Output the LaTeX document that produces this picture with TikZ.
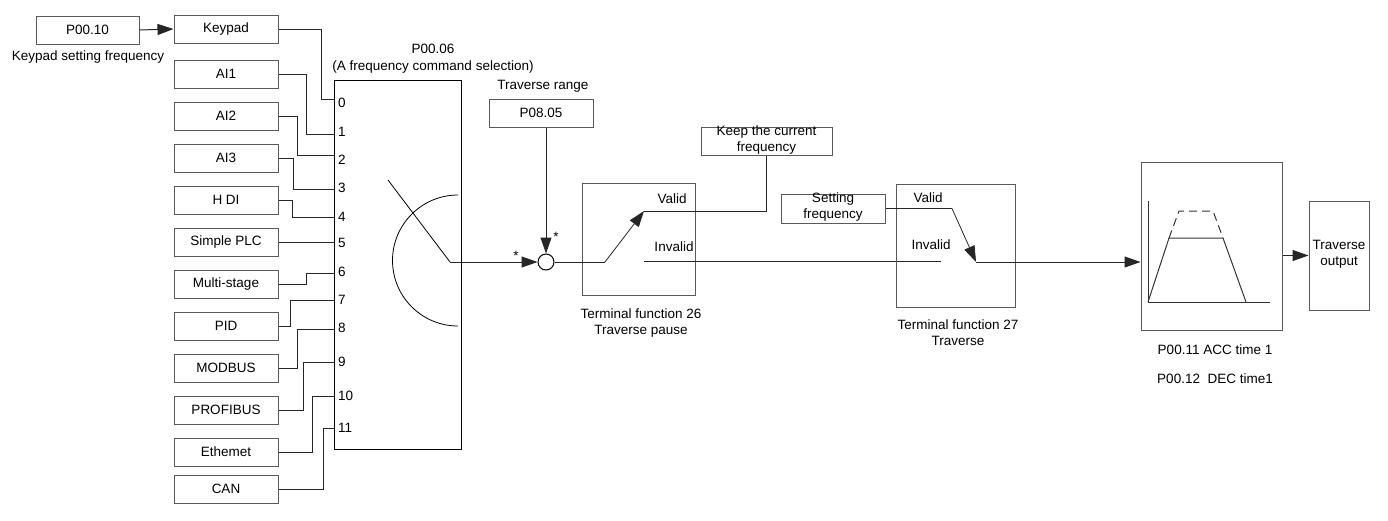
\documentclass[tikz,border=0pt]{standalone}
\usepackage{fontspec}
\setmainfont{Liberation Sans}
\usetikzlibrary{arrows.meta,calc}
\begin{document}
\begin{tikzpicture}[x=1pt,y=-1pt,
  every node/.style={font=\fontsize{13.5}{16}\selectfont, inner sep=0pt},
  box/.style={draw=black!65, line width=1pt, minimum width=104pt, minimum height=28pt},
  wire/.style={draw=black!85, line width=1pt},
  arr/.style={wire, -{Triangle[length=16pt,width=11pt]}},
  txt/.style={align=center}
]
\useasboundingbox (0,0) rectangle (1388,520);

% keypad setting
\node[box, minimum width=103pt] (p0010) at (87.5,30) {P00.10};
\node at (88,57) {Keypad setting frequency};

% source boxes
\node[box] (keypad) at (226,29) {Keypad};
\node[box] (ai1) at (226,74) {AI1};
\node[box] (ai2) at (226,116) {AI2};
\node[box] (ai3) at (226,158) {AI3};
\node[box] (hdi) at (226,200) {H DI};
\node[box] (plc) at (226,242) {Simple PLC};
\node[box] (multi) at (226,284) {Multi-stage};
\node[box] (pid) at (226,326) {PID};
\node[box] (modbus) at (226,368) {MODBUS};
\node[box] (profibus) at (226,410) {PROFIBUS};
\node[box] (ether) at (226,452) {Ethemet};
\node[box] (can) at (226,489) {CAN};

\draw[arr] (p0010.east) -- (keypad.west);

% selector
\node[draw=black, line width=1pt, minimum width=127pt, minimum height=369pt] (sel) at (397.5,264.5) {};
\node at (433,49) {P00.06};
\node at (433,67) {(A frequency command selection)};

\foreach \n/\y in {0/103,1/132,2/160,3/188,4/217,5/243,6/272,7/300,8/328,9/362,10/396,11/428}
  \node[anchor=west] (lab\n) at (338,\y) {\n};

\foreach \n/\y in {0/99,1/134,2/155,3/189,4/217,5/242,6/273,7/300,8/329,9/362,10/396,11/428}
  \coordinate (in\n) at (334,\y);

\draw[wire] (keypad.east) -- ++(43,0) |- (in0);
\draw[wire] (ai1.east) -- ++(28,0) |- (in1);
\draw[wire] (ai2.east) -- ++(19,0) |- (in2);
\draw[wire] (ai3.east) -- ++(15,0) |- (in3);
\draw[wire] (hdi.east) -- ++(14,0) |- (in4);
\draw[wire] (plc.east) -- (in5);
\draw[wire] (multi.east) -- ++(28,0) |- (in6);
\draw[wire] (pid.east) -- ++(12,0) |- (in7);
\draw[wire] (modbus.east) -- ++(19,0) |- (in8);
\draw[wire] (profibus.east) -- ++(25,0) |- (in9);
\draw[wire] (ether.east) -- ++(34,0) |- (in10);
\draw[wire] (can.east) -- ++(45,0) |- (in11);

% switch inside selector
\coordinate (armtop) at (388,180);
\coordinate (pivot) at (450,262);
\draw[line width=0.8pt] (armtop) -- (pivot);
\draw[line width=0.8pt] (458,195) arc[start angle=90, end angle=270, radius=65.5pt];

% summing point
\node[draw=black, line width=1pt, circle, minimum size=16pt] (sum) at (546,262) {};
\draw[arr] (pivot) -- (sum.west);
\node at (516,256) {*};
\node at (556,237) {*};

\node at (543,86) {Traverse range};
\node[box] (rng) at (541,113) {P08.05};
\draw[arr] (rng.south -| sum.north) -- (sum.north);

% terminal function 26
\node[box, minimum width=113pt, minimum height=112pt] (b26) at (638.5,239) {};
\node at (672,199) {Valid};
\node at (674,247) {Invalid};
\node[txt] at (641,323) {Terminal function 26\\Traverse pause};

\node[box, minimum width=131pt] (keep) at (766.5,141) {};
\node[txt] at (766.5,140) {Keep the current\\frequency};

\coordinate (s1a) at (605,262);
\coordinate (s1b) at (644,211);
\draw[wire] (sum.east) -- (s1a);
\draw[arr, line width=0.8pt] (s1a) -- (s1b);
\draw[wire] (s1b) -| (keep.south);

\coordinate (inv1) at (644,261);
\coordinate (inv2) at (941,261);
\draw[wire] (inv1) -- (inv2);

% terminal function 27
\node[box, minimum width=119pt, minimum height=123pt] (b27) at (955.5,245.5) {};
\node at (928,198) {Valid};
\node at (931,245) {Invalid};
\node[txt] at (958,333) {Terminal function 27\\Traverse};

\node[box, minimum height=29pt] (setf) at (833,208.5) {};
\node[txt] at (833,207.5) {Setting\\frequency};

\coordinate (s2a) at (952,208.5);
\coordinate (s2b) at (976,262);
\draw[wire] (setf.east) -- (s2a);
\draw[arr, line width=0.8pt] (s2a) -- (s2b);

% acc/dec block
\node[box, minimum width=141pt, minimum height=168pt] (acc) at (1211.5,246) {};
\draw[arr] (s2b) -- (s2b -| acc.west);

\draw[line width=1pt, black!80] (1148,201) -- (1148,302) -- (1270,302);
\draw[line width=1pt, black!80] (1148,302) -- (1169,238) -- (1223,238) -- (1246,302);
\draw[line width=1pt, black!80, dash pattern=on 8pt off 5pt] (1169,238) -- (1179,211) -- (1213,211) -- (1223,238);

\node at (1215,350) {P00.11 ACC time 1};
\node at (1215,379) {P00.12\ \ DEC time1};

% output
\node[box, minimum width=60pt, minimum height=109pt] (out) at (1339,255.5) {};
\node[txt] at (1339,254.5) {Traverse\\output};
\draw[arr] (acc.east |- out.west) -- (out.west);
\end{tikzpicture}
\end{document}
